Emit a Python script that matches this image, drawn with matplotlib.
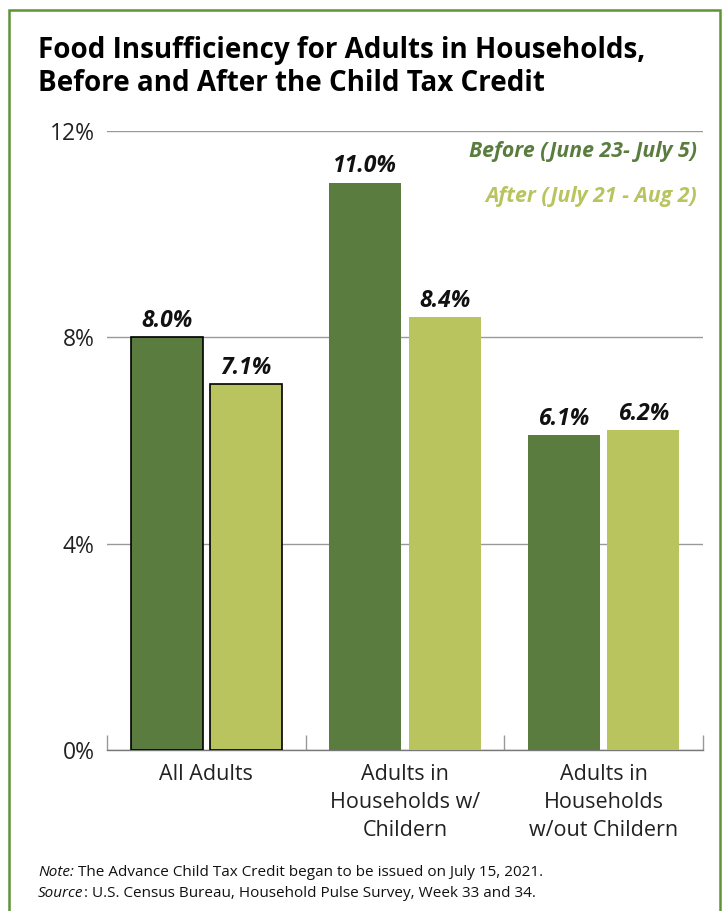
import matplotlib.pyplot as plt
import matplotlib.patches as patches
import numpy as np

categories = ["All Adults", "Adults in\nHouseholds w/\nChildern", "Adults in\nHouseholds\nw/out Childern"]
before = [8.0, 11.0, 6.1]
after = [7.1, 8.4, 6.2]
labels_before = ["8.0%", "11.0%", "6.1%"]
labels_after = ["7.1%", "8.4%", "6.2%"]
yticks = [0, 4, 8, 12]
ytick_labels = ["0%", "4%", "8%", "12%"]

dark = "#5a7d3f"
light = "#b9c45e"
border = "#5e9436"
W, H = 727, 911

plt.rcParams['font.family'] = ['Open Sans', 'DejaVu Sans']

fig = plt.figure(figsize=(W / 100, H / 100), dpi=100)


def fx(px):
    return px / W


def fy(py):
    return 1 - py / H


# green frame around the chart
fig.patches.append(patches.Rectangle((fx(9), fy(925)), fx(711), fy(10) - fy(925),
                                     transform=fig.transFigure, fill=False,
                                     edgecolor=border, linewidth=1.8))

ax = fig.add_axes([fx(107), fy(750), fx(703) - fx(107), fy(131) - fy(750)])

x = np.arange(len(categories))
bw = 0.363
off = 0.2
for i in range(len(categories)):
    ec = "black" if i == 0 else "none"
    lw = 1.2 if i == 0 else 0
    ax.bar(x[i] - off, before[i], bw, color=dark, edgecolor=ec, linewidth=lw, zorder=3)
    ax.bar(x[i] + off, after[i], bw, color=light, edgecolor=ec, linewidth=lw, zorder=3)
    ax.text(x[i] - off, before[i] + 0.08, labels_before[i], ha="center", va="bottom",
            fontsize=16.5, fontweight="bold", style="italic", color="#111111")
    ax.text(x[i] + off, after[i] + 0.08, labels_after[i], ha="center", va="bottom",
            fontsize=16.5, fontweight="bold", style="italic", color="#111111")

ax.set_xlim(-0.5, 2.5)
ax.set_ylim(0, 12)
ax.set_yticks(yticks)
ax.set_yticklabels(ytick_labels, fontsize=16.5, color="#222222")
ax.tick_params(axis="y", length=0, pad=9)
ax.yaxis.grid(True, color="#999999", linewidth=1, zorder=0)
ax.set_xticks(x)
ax.set_xticklabels(categories, fontsize=15.5, color="#222222", linespacing=1.45, va="top")
ax.tick_params(axis="x", length=0, pad=10)
ax.set_xticks([-0.5, 0.5, 1.5, 2.5], minor=True)
ax.tick_params(axis="x", which="minor", direction="in", length=11, color="#999999", width=1)
for s in ["left", "right", "top"]:
    ax.spines[s].set_visible(False)
ax.spines["bottom"].set_color("#777777")
ax.spines["bottom"].set_linewidth(1)

# legend as coloured text
fig.text(fx(697), fy(157), "Before (June 23- July 5)", ha="right", va="baseline",
         fontsize=15.3, fontweight="bold", style="italic", color=dark)
fig.text(fx(697), fy(202), "After (July 21 - Aug 2)", ha="right", va="baseline",
         fontsize=15.3, fontweight="bold", style="italic", color=light)

# title
fig.text(fx(38), fy(58), "Food Insufficiency for Adults in Households,", ha="left",
         va="baseline", fontsize=20, fontweight="bold", color="black")
fig.text(fx(38), fy(91), "Before and After the Child Tax Credit", ha="left",
         va="baseline", fontsize=20, fontweight="bold", color="black")

# notes: italic lead word followed by regular text
renderer = fig.canvas.get_renderer()
notes = [("Note:", " The Advance Child Tax Credit began to be issued on July 15, 2021.", 876),
         ("Source", ": U.S. Census Bureau, Household Pulse Survey, Week 33 and 34.", 897)]
for lead, rest, yb in notes:
    t = fig.text(fx(38), fy(yb), lead, ha="left", va="baseline", fontsize=11,
                 style="italic", color="#111111")
    bb = t.get_window_extent(renderer)
    fig.text(bb.x1 / W, fy(yb), rest, ha="left", va="baseline", fontsize=11, color="#111111")

fig.savefig("out.png", dpi=100)
